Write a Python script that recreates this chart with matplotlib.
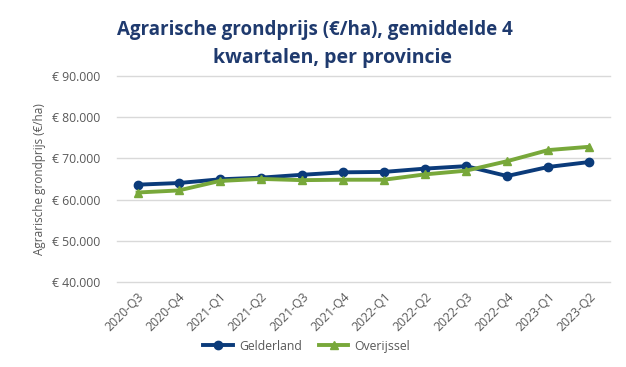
import matplotlib
matplotlib.use("Agg")
import matplotlib.pyplot as plt
from matplotlib.ticker import FuncFormatter

quarters = ["2020-Q3", "2020-Q4", "2021-Q1", "2021-Q2", "2021-Q3", "2021-Q4",
            "2022-Q1", "2022-Q2", "2022-Q3", "2022-Q4", "2023-Q1", "2023-Q2"]
gelderland = [63600, 64000, 64900, 65300, 66000, 66600, 66700, 67500, 68100, 65700, 67900, 69100]
overijssel = [61700, 62200, 64500, 65000, 64700, 64800, 64800, 66100, 67000, 69300, 72000, 72800]
title_lines = ["Agrarische grondprijs (€/ha), gemiddelde 4", "kwartalen, per provincie"]

plt.rcParams['font.family'] = ['Open Sans', 'DejaVu Sans']

fig = plt.figure(figsize=(6.26, 3.67), dpi=100)
ax = fig.add_axes([0.187, 0.232, 0.787, 0.561])

x = list(range(len(quarters)))
ax.plot(x, gelderland, color="#0B3B7A", lw=2.8, marker="o", ms=6, label="Gelderland")
ax.plot(x, overijssel, color="#78A83A", lw=2.8, marker="^", ms=6, label="Overijssel")

ax.set_ylim(40000, 90000)
ax.set_xlim(-0.5, len(quarters) - 0.5)
ax.set_yticks(range(40000, 90001, 10000))
ax.yaxis.set_major_formatter(FuncFormatter(lambda v, p: "€ " + f"{int(v):,}".replace(",", ".")))
ax.set_xticks(x)
ax.set_xticklabels(quarters, rotation=45, ha="right", rotation_mode="anchor")
ax.tick_params(axis="both", length=0, labelsize=8.8, colors="#595959")
ax.tick_params(axis="y", pad=12)
ax.tick_params(axis="x", pad=6)
ax.grid(axis="y", color="#D9D9D9", lw=1)
for gl in ax.get_ygridlines():
    gl.set_clip_on(False)
ax.set_axisbelow(True)
for s in ax.spines.values():
    s.set_visible(False)

ax.set_ylabel("Agrarische grondprijs (€/ha)", fontsize=8.5, color="#595959", labelpad=4)

fig.text(0.503, 0.918, title_lines[0], ha="center", va="center", fontsize=13.5,
         fontweight="bold", color="#1F3A6E")
fig.text(0.531, 0.843, title_lines[1], ha="center", va="center", fontsize=14,
         fontweight="bold", color="#1F3A6E")

leg = fig.legend(loc="center", bbox_to_anchor=(0.49, 0.057), ncol=2, frameon=False,
                 fontsize=8.8, handlelength=2.4, columnspacing=1.4, handletextpad=0.5)
for t in leg.get_texts():
    t.set_color("#595959")

fig.savefig("out.png", dpi=100)
